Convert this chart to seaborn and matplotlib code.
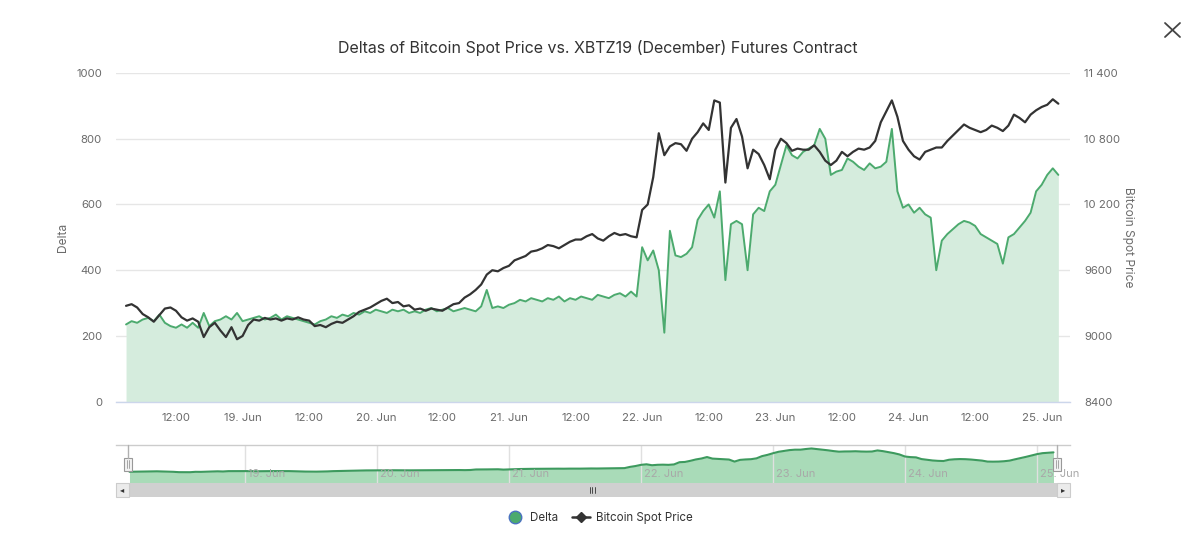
import numpy as np
import pandas as pd
import matplotlib
matplotlib.use("Agg")
import matplotlib.pyplot as plt
import matplotlib.dates as mdates
from matplotlib.ticker import FuncFormatter, FixedLocator
from matplotlib.lines import Line2D
from matplotlib.patches import Rectangle
import seaborn as sns

# ---------------- data (hourly readings, 18 Jun 03:00 -> 25 Jun 03:00, 2019) ----------------
start_time = "2019-06-18 03:00"
delta = [
    235, 245, 240, 250, 255, 245, 265, 240, 230, 225, 235, 225, 240, 225, 270, 230, 245, 250, 260, 250, 270, 245,
    250, 255, 260, 250, 255, 265, 250, 260, 255, 250, 245, 240, 235, 245, 250, 260, 255, 265, 260, 270, 265, 275,
    270, 280, 275, 270, 280, 275, 280, 270, 275, 270, 280, 285, 275, 280, 285, 275, 280, 285, 280, 275, 290, 340,
    285, 290, 285, 295, 300, 310, 305, 315, 310, 305, 315, 310, 320, 305, 315, 310, 320, 315, 310, 325, 320, 315,
    325, 330, 320, 335, 320, 470, 430, 460, 400, 210, 520, 445, 440, 450, 470, 553, 580, 600, 560, 640, 370, 540,
    550, 540, 400, 570, 590, 580, 640, 660, 720, 780, 750, 740, 760, 770, 780, 830, 800, 690, 700, 705, 740, 730,
    715, 705, 725, 710, 715, 730, 830, 640, 590, 600, 575, 590, 570, 560, 400, 490, 510, 525, 540, 550, 545, 535,
    510, 500, 490, 480, 420, 500, 510, 530, 550, 575, 640, 660, 690, 710, 690,
]
price = [
    9275, 9290, 9260, 9200, 9170, 9130, 9190, 9250, 9260, 9230, 9170, 9140, 9160, 9130, 8990, 9080, 9120, 9050,
    8990, 9080, 8970, 9000, 9100, 9150, 9140, 9165, 9150, 9160, 9140, 9160, 9150, 9170, 9150, 9140, 9090, 9100,
    9080, 9110, 9130, 9120, 9150, 9180, 9220, 9240, 9260, 9290, 9320, 9340, 9300, 9310, 9270, 9280, 9240, 9250,
    9230, 9250, 9240, 9230, 9260, 9290, 9300, 9350, 9380, 9420, 9470, 9560, 9600, 9590, 9620, 9640, 9690, 9710,
    9730, 9770, 9780, 9800, 9830, 9820, 9800, 9830, 9860, 9880, 9880, 9910, 9930, 9890, 9870, 9910, 9940, 9920,
    9930, 9910, 9900, 10150, 10200, 10450, 10850, 10650, 10730, 10760, 10750, 10690, 10800, 10860, 10940, 10880,
    11150, 11130, 10400, 10900, 10980, 10820, 10530, 10700, 10660, 10560, 10430, 10700, 10800, 10760, 10690, 10710,
    10700, 10700, 10740, 10680, 10600, 10560, 10600, 10680, 10640, 10680, 10710, 10700, 10720, 10780, 10950, 11050,
    11150, 11000, 10780, 10700, 10640, 10610, 10680, 10700, 10720, 10720, 10780, 10830, 10880, 10930, 10900, 10880,
    10860, 10880, 10920, 10900, 10870, 10920, 11020, 10990, 10950, 11020, 11060, 11090, 11110, 11160, 11120,
]
title = "Deltas of Bitcoin Spot Price vs. XBTZ19 (December) Futures Contract"
left_ticks = [0, 200, 400, 600, 800, 1000]
right_ticks = [8400, 9000, 9600, 10200, 10800, 11400]

times = pd.date_range(start_time, periods=len(delta), freq="h")
df = pd.DataFrame({"time": times, "Delta": delta, "Bitcoin Spot Price": price})

# ---------------- style ----------------
sns.set_theme(style="white")
plt.rcParams["font.family"] = ["Inter", "DejaVu Sans"]

W, H = 1200, 546
fig = plt.figure(figsize=(W / 100, H / 100), dpi=100)
fig.patch.set_facecolor("white")

def fx(px):
    return px / W

def fy(py):
    return 1 - py / H

GREEN = "#4caa6e"
GREEN_FILL = "#d5ecdd"
DARK = "#333333"
GRID = "#e6e6e6"
TICKC = "#6b6b6b"
AXISC = "#ccd6eb"

# main axes: plot area 116..1070 x, 73..401.7 y
ax = fig.add_axes([fx(116), fy(401.7), fx(1070 - 116), (401.7 - 73) / H])
t0 = pd.Timestamp("2019-06-18 00:00")
xmin = t0 + pd.Timedelta(hours=1.19)
xmax = t0 + pd.Timedelta(hours=173.1)

ax.fill_between(df["time"], 0, df["Delta"], color=GREEN_FILL, linewidth=0, zorder=1)
sns.lineplot(data=df, x="time", y="Delta", ax=ax, color=GREEN, linewidth=1.4, zorder=3)
ax.set_xlim(xmin, xmax)
ax.set_ylim(0, 1000)
ax.yaxis.set_major_locator(FixedLocator(left_ticks))
ax.grid(axis="y", color=GRID, linewidth=1)
ax.set_axisbelow(True)
for s in ["top", "right", "left"]:
    ax.spines[s].set_visible(False)
ax.spines["bottom"].set_color(AXISC)
ax.spines["bottom"].set_linewidth(1)

ax.xaxis.set_major_locator(mdates.HourLocator(byhour=[0, 12]))

def xfmt(v, pos):
    d = mdates.num2date(v)
    if d.hour == 0:
        return f"{d.day}. {d.strftime('%b')}"
    return d.strftime("%H:%M")

ax.xaxis.set_major_formatter(FuncFormatter(xfmt))
ax.tick_params(axis="x", length=7.2, width=1, color="#8fa6e0", pad=1, labelsize=8.2, labelcolor=TICKC, direction="out")
ax.tick_params(axis="y", length=0, pad=10, labelsize=8.2, labelcolor=TICKC)
ax.set_xlabel("")
ax.set_ylabel("Delta", color=TICKC, fontsize=8.6, labelpad=5)

ax2 = ax.twinx()
sns.lineplot(data=df, x="time", y="Bitcoin Spot Price", ax=ax2, color=DARK, linewidth=1.6, zorder=4)
ax2.set_xlim(xmin, xmax)
ax2.set_ylim(8400, 11400)
ax2.yaxis.set_major_locator(FixedLocator(right_ticks))

def pfmt(v, pos):
    v = int(round(v))
    if v >= 10000:
        return f"{v:,}".replace(",", " ")
    return str(v)

ax2.yaxis.set_major_formatter(FuncFormatter(pfmt))
ax2.tick_params(axis="y", length=0, pad=10, labelsize=8.2, labelcolor=TICKC)
for s in ["top", "right", "left", "bottom"]:
    ax2.spines[s].set_visible(False)
ax2.set_ylabel("Bitcoin Spot Price", color=TICKC, fontsize=8.6, rotation=270, labelpad=10)
ax2.grid(False)

fig.text(fx(598), fy(48), title, ha="center", va="center", fontsize=11.5, color=DARK)

# ---------------- navigator ----------------
nav = fig.add_axes([fx(116), fy(483), fx(1070 - 116), 38 / H])
nav.set_facecolor("white")
smooth = df["Delta"].rolling(5, center=True, min_periods=1).mean()
nav.fill_between(df["time"], -30, smooth, color="#a9dbb8", linewidth=0, zorder=1)
sns.lineplot(x=df["time"], y=smooth, ax=nav, color="#3d9a5e", linewidth=1.5, zorder=3)
nav.set_xlim(t0 + pd.Timedelta(hours=0.55), t0 + pd.Timedelta(hours=174))
nav.set_ylim(-24, 870)
nav.xaxis.set_major_locator(mdates.DayLocator())
nav.set_xticklabels([])
nav.tick_params(length=0)
nav.set_yticks([])
nav.set_xlabel("")
nav.set_ylabel("")
nav.grid(False)
for s in ["left", "right", "bottom"]:
    nav.spines[s].set_visible(False)
nav.spines["top"].set_color("#cccccc")
nav.spines["top"].set_linewidth(1)
for d in pd.date_range("2019-06-19", "2019-06-25", freq="D"):
    nav.axvline(d, color="#e0e0e0", linewidth=1, zorder=2)
    nav.text(d + pd.Timedelta(hours=0.6), 190, f"{d.day}. {d.strftime('%b')}",
             fontsize=8, color="#a8a8a8", va="center", ha="left", zorder=4)

# navigator outline verticals & handles
for px in (128, 1057):
    fig.add_artist(Line2D([fx(px), fx(px)], [fy(445), fy(458)], color="#b0b0b0", linewidth=1))
    fig.add_artist(Rectangle((fx(px - 4), fy(471)), fx(8), 13 / H, facecolor="#f2f2f2",
                             edgecolor="#999999", linewidth=0.8))
    for dx in (-1, 1):
        fig.add_artist(Line2D([fx(px + dx), fx(px + dx)], [fy(460), fy(468)], color="#999999", linewidth=0.6))

# scrollbar
fig.add_artist(Rectangle((fx(116), fy(497)), fx(954), 14 / H, facecolor="#d0d0d0", edgecolor="none"))
for px0 in (116, 1057):
    fig.add_artist(Rectangle((fx(px0), fy(497)), fx(13), 14 / H, facecolor="#ebebeb", edgecolor="#cccccc", linewidth=0.8))
fig.text(fx(122.5), fy(490), "◂", fontsize=6, color="#333333", ha="center", va="center", family="DejaVu Sans")
fig.text(fx(1063.5), fy(490), "▸", fontsize=6, color="#333333", ha="center", va="center", family="DejaVu Sans")
for dx in (-2.5, 0, 2.5):
    fig.add_artist(Line2D([fx(592 + dx), fx(592 + dx)], [fy(487), fy(493)], color="#333333", linewidth=0.6))

# legend
handles = [
    Line2D([], [], linestyle="none", marker="o", markersize=9, markerfacecolor=GREEN, markeredgecolor="#4a72c0",
           markeredgewidth=1.0, label="Delta"),
    Line2D([], [], color=DARK, linewidth=1.8, marker="D", markersize=5, label="Bitcoin Spot Price"),
]
fig.legend(handles=handles, loc="center", bbox_to_anchor=(fx(599), fy(518)), ncol=2, frameon=False,
           fontsize=8.3, labelcolor=DARK, handlelength=1.6, handletextpad=0.5, columnspacing=1.2)

# close button
fig.add_artist(Line2D([fx(1165), fx(1180)], [fy(23), fy(37)], color="#444444", linewidth=1.3))
fig.add_artist(Line2D([fx(1165), fx(1180)], [fy(37), fy(23)], color="#444444", linewidth=1.3))

fig.savefig("out.png", dpi=100, facecolor="white")
